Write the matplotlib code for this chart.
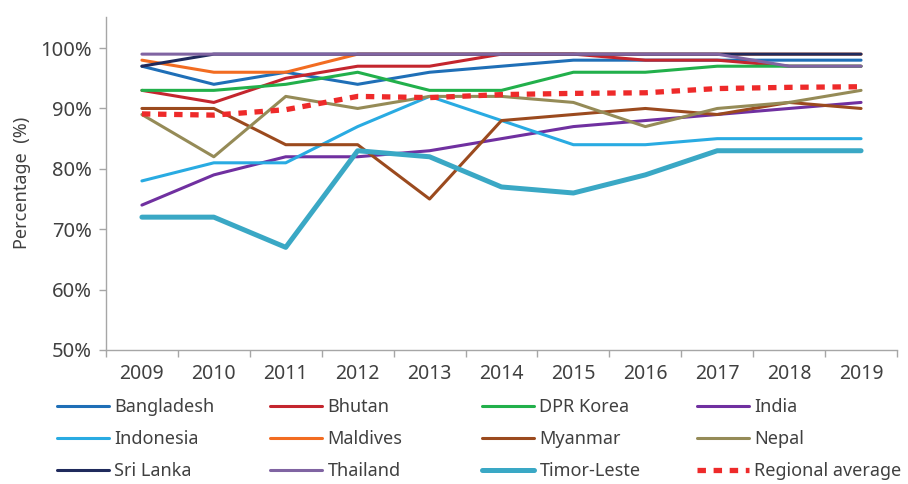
import numpy as np
import matplotlib
matplotlib.use("Agg")
import matplotlib.pyplot as plt

plt.rcParams['font.family'] = ['Noto Sans', 'DejaVu Sans']

years = ['2009', '2010', '2011', '2012', '2013', '2014', '2015', '2016', '2017', '2018', '2019']

bangladesh = [97, 94, 96, 94, 96, 97, 98, 98, 98, 98, 98]
bhutan = [93, 91, 95, 97, 97, 99, 99, 98, 98, 97, 97]
dpr_korea = [93, 93, 94, 96, 93, 93, 96, 96, 97, 97, 97]
india = [74, 79, 82, 82, 83, 85, 87, 88, 89, 90, 91]
indonesia = [78, 81, 81, 87, 92, 88, 84, 84, 85, 85, 85]
maldives = [98, 96, 96, 99, 99, 99, 99, 99, 99, 99, 99]
myanmar = [90, 90, 84, 84, 75, 88, 89, 90, 89, 91, 90]
nepal = [89, 82, 92, 90, 92, 92, 91, 87, 90, 91, 93]
sri_lanka = [97, 99, 99, 99, 99, 99, 99, 99, 99, 99, 99]
thailand = [99, 99, 99, 99, 99, 99, 99, 99, 99, 97, 97]
timor_leste = [72, 72, 67, 83, 82, 77, 76, 79, 83, 83, 83]
regional = [89.1, 88.9, 89.8, 92.0, 91.8, 92.3, 92.5, 92.6, 93.3, 93.5, 93.6]

names = ['Bangladesh', 'Bhutan', 'DPR Korea', 'India', 'Indonesia', 'Maldives',
         'Myanmar', 'Nepal', 'Sri Lanka', 'Thailand', 'Timor-Leste']
series = [bangladesh, bhutan, dpr_korea, india, indonesia, maldives,
          myanmar, nepal, sri_lanka, thailand, timor_leste]
colors = ['#1f6fb7', '#c4262e', '#22b04b', '#7030a0', '#29abe2', '#f26c21',
          '#9b4a1e', '#958b57', '#1f2a5c', '#8064a2', '#3aa8c5']

txt = '#404040'
grey = '#a6a6a6'

fig = plt.figure(figsize=(9.08, 4.84), dpi=100)
ax = fig.add_axes([0.1167, 0.2769, 0.8712, 0.6886])

x = np.arange(len(years))
handles = []
for name, vals, c in zip(names, series, colors):
    lw = 3.6 if name == 'Timor-Leste' else 2.2
    h, = ax.plot(x, vals, color=c, lw=lw, label=name, solid_capstyle='round')
    handles.append(h)
h, = ax.plot(x, regional, color='#ee2a2a', lw=3.8, dashes=(1.6, 1.45),
             label='Regional average')
handles.append(h)

ax.set_xlim(-0.5, 10.5)
ax.set_ylim(50, 105.2)
ax.set_yticks(np.arange(50, 101, 10))
ax.set_yticklabels(['%d%%' % v for v in range(50, 101, 10)])
ax.set_xticks(np.arange(-0.5, 11, 1))
ax.set_xticklabels([])
ax.set_xticks(x, minor=True)
ax.set_xticklabels(years, minor=True)
ax.tick_params(axis='x', which='major', length=5, color=grey, width=1)
ax.tick_params(axis='x', which='minor', length=0, pad=10, labelsize=14, labelcolor=txt)
ax.tick_params(axis='y', length=5, color=grey, width=1, pad=5, labelsize=14.5, labelcolor=txt)

for s in ['top', 'right']:
    ax.spines[s].set_visible(False)
for s in ['left', 'bottom']:
    ax.spines[s].set_color(grey)
    ax.spines[s].set_linewidth(1)

ax.set_ylabel('Percentage  (%)', fontsize=13, color=txt, labelpad=7)

# legend: 4 equal-width columns, filled row by row
col_x = [57, 270, 482, 697]
for i, cx in enumerate(col_x):
    hs = handles[i::4]
    leg = fig.legend(handles=hs, labels=[h.get_label() for h in hs],
                     loc='upper left', bbox_to_anchor=(cx / 908, 1 - 398 / 484),
                     frameon=False, fontsize=13, borderpad=0, borderaxespad=0,
                     handlelength=2.9, handletextpad=0.28, labelspacing=0.78,
                     labelcolor=txt)

fig.savefig('out.png', dpi=100)
